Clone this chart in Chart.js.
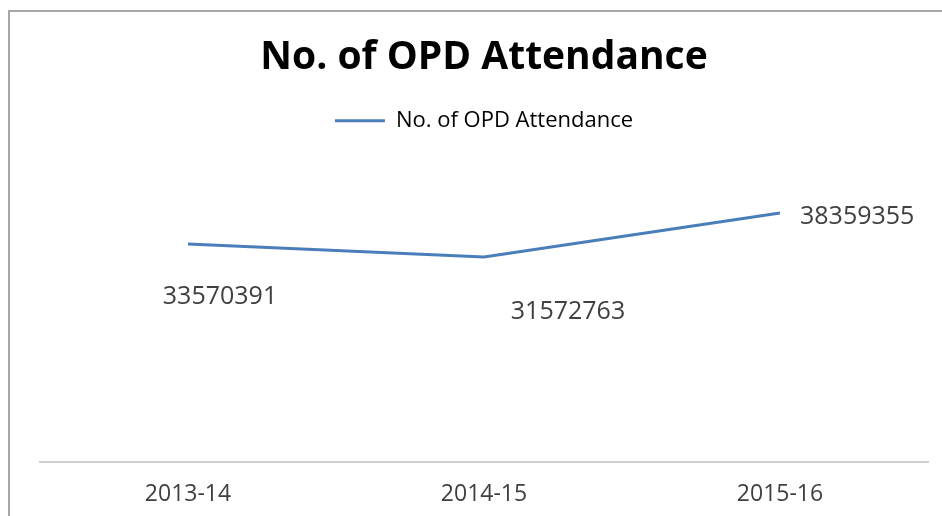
<!DOCTYPE html>
<html>
<head>
<meta charset="utf-8">
<script src="https://cdn.jsdelivr.net/npm/chart.js@4.4.0/dist/chart.umd.min.js"></script>
<style>
html,body{margin:0;padding:0;background:#fff;}
#wrap{position:relative;width:942px;height:516px;}
</style>
</head>
<body>
<div id="wrap"><canvas id="c" width="942" height="516"></canvas></div>
<script>
const categories = ["2013-14", "2014-15", "2015-16"];
const seriesName = "No. of OPD Attendance";
const attendance = [33570391, 31572763, 38359355];
const chartTitle = "No. of OPD Attendance";

const frame = {
  id: 'frame',
  beforeDraw(chart) {
    const ctx = chart.ctx;
    ctx.save();
    ctx.fillStyle = '#ffffff';
    ctx.fillRect(0, 0, chart.width, chart.height);
    ctx.strokeStyle = '#a6a6a6';
    ctx.lineWidth = 2;
    ctx.beginPath();
    ctx.moveTo(9, chart.height);
    ctx.lineTo(9, 11);
    ctx.lineTo(chart.width, 11);
    ctx.stroke();
    ctx.restore();
  }
};

const legendGap = {
  id: 'legendGap',
  afterInit(chart) {
    const lg = chart.legend;
    if (!lg) return;
    const orig = lg.fit;
    lg.fit = function () {
      orig.call(this);
      this.height += 28;
    };
  }
};

const labelOffsets = [[32, 53, 'center'], [84, 55, 'center'], [20, 4, 'left']];
const dataLabels = {
  id: 'dataLabels',
  afterDatasetsDraw(chart) {
    const ctx = chart.ctx;
    const meta = chart.getDatasetMeta(0);
    ctx.save();
    ctx.font = '25px "Open Sans"';
    ctx.fillStyle = '#404040';
    ctx.textBaseline = 'middle';
    meta.data.forEach((pt, i) => {
      const o = labelOffsets[i];
      ctx.textAlign = o[2];
      ctx.fillText(String(chart.data.datasets[0].data[i]), pt.x + o[0], pt.y + o[1]);
    });
    ctx.restore();
  }
};

new Chart(document.getElementById('c'), {
  type: 'line',
  data: {
    labels: categories,
    datasets: [{
      label: seriesName,
      data: attendance,
      borderColor: '#4a7ebb',
      backgroundColor: '#4a7ebb',
      borderWidth: 3,
      pointRadius: 0,
      tension: 0
    }]
  },
  options: {
    responsive: false,
    animation: false,
    layout: { padding: { left: 40, right: 14, top: 0, bottom: 11 } },
    plugins: {
      title: {
        display: true,
        text: chartTitle,
        color: '#000000',
        font: { family: '"Open Sans"', size: 39, weight: 'bold' },
        padding: { top: 34, bottom: 21 }
      },
      legend: {
        display: true,
        labels: {
          color: '#404040',
          font: { family: '"Open Sans"', size: 22 },
          boxWidth: 50,
          boxHeight: 3,
          padding: 8,
          generateLabels(chart) {
            const ds = chart.data.datasets[0];
            return [{ text: ds.label, fillStyle: ds.borderColor, strokeStyle: ds.borderColor, lineWidth: 0, datasetIndex: 0 }];
          }
        }
      },
      tooltip: { enabled: false }
    },
    scales: {
      x: {
        offset: true,
        grid: { display: false, drawTicks: false },
        border: { display: true, color: '#cfcfcf', width: 2 },
        ticks: { color: '#404040', font: { family: '"Open Sans"', size: 23 }, padding: 19 },
        afterFit(scale) { scale.height = 43; }
      },
      y: {
        display: false,
        min: 0,
        max: 45000000
      }
    }
  },
  plugins: [frame, legendGap, dataLabels]
});
</script>
</body>
</html>
